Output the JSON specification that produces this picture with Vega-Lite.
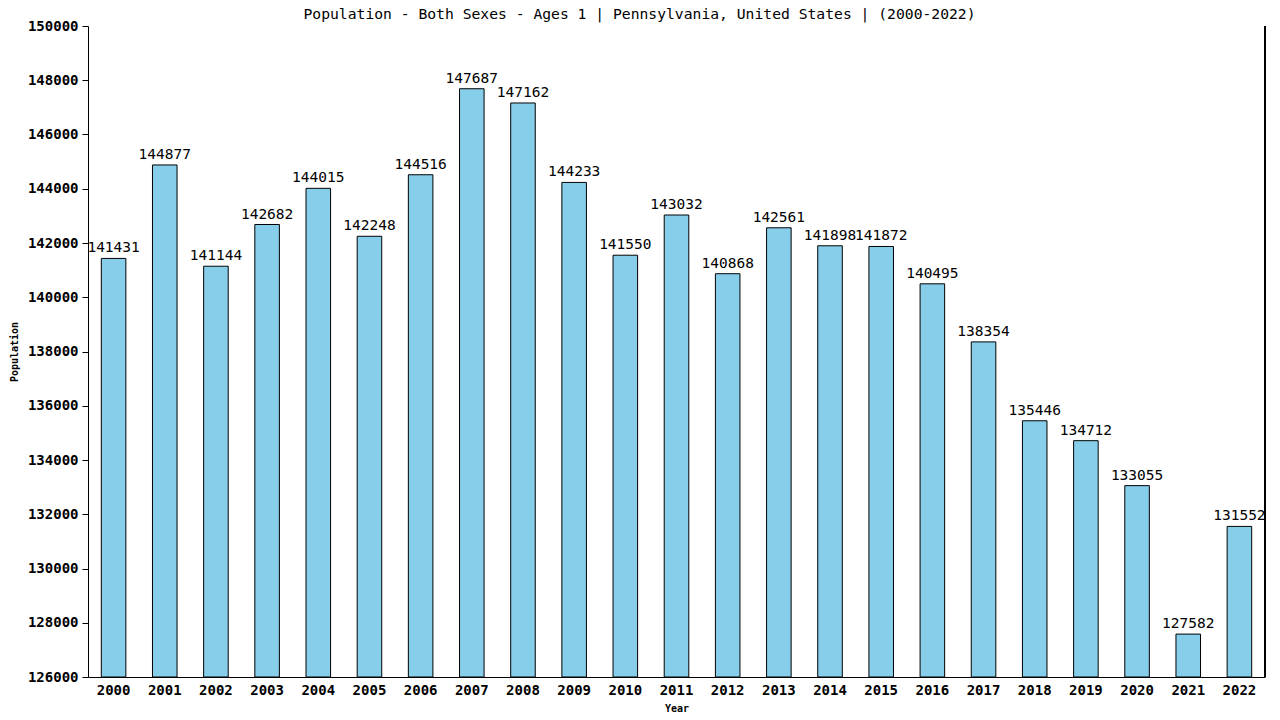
{
  "$schema": "https://vega.github.io/schema/vega-lite/v6.json",
  "width": 1177,
  "height": 651,
  "autosize": {"type": "none"},
  "padding": {"left": 88, "top": 26, "right": 15, "bottom": 43},
  "background": "white",
  "title": {
    "text": "Population - Both Sexes - Ages 1 | Pennsylvania, United States |  (2000-2022)",
    "font": "DejaVu Sans Mono",
    "fontSize": 14.7,
    "fontWeight": "normal",
    "color": "black",
    "anchor": "middle",
    "frame": "group",
    "dx": -37,
    "offset": 0,
    "dy": 3
  },
  "config": {
    "view": {"stroke": null},
    "axis": {
      "labelFont": "DejaVu Sans Mono",
      "titleFont": "DejaVu Sans Mono",
      "labelColor": "black",
      "titleColor": "black",
      "domainColor": "black",
      "tickColor": "black",
      "grid": false
    }
  },
  "data": {
    "values": [
      {"year": "2000", "pop": 141431},
      {"year": "2001", "pop": 144877},
      {"year": "2002", "pop": 141144},
      {"year": "2003", "pop": 142682},
      {"year": "2004", "pop": 144015},
      {"year": "2005", "pop": 142248},
      {"year": "2006", "pop": 144516},
      {"year": "2007", "pop": 147687},
      {"year": "2008", "pop": 147162},
      {"year": "2009", "pop": 144233},
      {"year": "2010", "pop": 141550},
      {"year": "2011", "pop": 143032},
      {"year": "2012", "pop": 140868},
      {"year": "2013", "pop": 142561},
      {"year": "2014", "pop": 141898},
      {"year": "2015", "pop": 141872},
      {"year": "2016", "pop": 140495},
      {"year": "2017", "pop": 138354},
      {"year": "2018", "pop": 135446},
      {"year": "2019", "pop": 134712},
      {"year": "2020", "pop": 133055},
      {"year": "2021", "pop": 127582},
      {"year": "2022", "pop": 131552}
    ]
  },
  "encoding": {
    "x": {
      "field": "year",
      "type": "ordinal",
      "title": "Year",
      "scale": {"paddingInner": 0.52, "paddingOuter": 0.26},
      "axis": {
        "labelAngle": 0,
        "labelFontSize": 14,
        "labelFontWeight": "bold",
        "ticks": false,
        "labelPadding": 6,
        "titleFontSize": 10,
        "titleFontWeight": "bold",
        "titlePadding": 6
      }
    },
    "y": {
      "field": "pop",
      "type": "quantitative",
      "title": "Population",
      "scale": {"domain": [126000, 150000], "zero": false, "nice": false, "clamp": true},
      "axis": {
        "values": [126000, 128000, 130000, 132000, 134000, 136000, 138000, 140000, 142000, 144000, 146000, 148000, 150000],
        "format": "d",
        "labelFontSize": 14,
        "labelFontWeight": "bold",
        "tickSize": 6,
        "labelPadding": 4,
        "titleFontSize": 10,
        "titleFontWeight": "bold",
        "titlePadding": 8
      }
    }
  },
  "layer": [
    {
      "mark": {"type": "bar", "color": "#87CEEB", "stroke": "black", "strokeWidth": 1}
    },
    {
      "mark": {"type": "text", "baseline": "bottom", "dy": -3, "font": "DejaVu Sans Mono", "fontSize": 14.5, "color": "black"},
      "encoding": {"text": {"field": "pop", "type": "quantitative", "format": "d"}}
    },
    {
      "mark": {"type": "rule", "color": "black"},
      "encoding": {"x": {"value": 1177}, "y": {"value": 0}, "y2": {"value": 651}}
    }
  ]
}
